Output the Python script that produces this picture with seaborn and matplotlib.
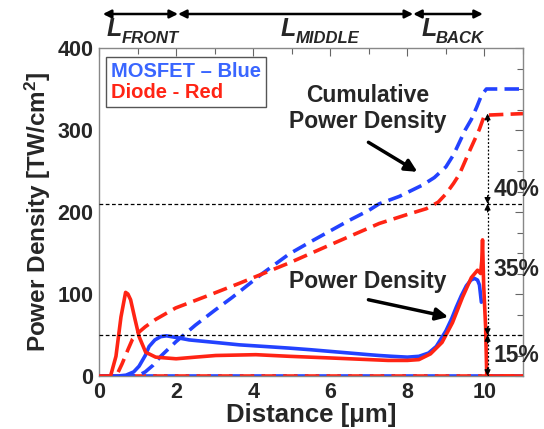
import matplotlib
matplotlib.use("Agg")
import matplotlib.pyplot as plt
import seaborn as sns
import pandas as pd
from matplotlib.lines import Line2D
from matplotlib.ticker import MultipleLocator

# ---- data: distance [um] vs power density / cumulative power density [TW/cm^2] ----
mos_pd_x = [0, 0.5, 0.7, 0.9, 1.04, 1.2, 1.3, 1.45, 1.6, 1.75, 2.0, 2.34, 3.0, 3.64,
            4.3, 4.94, 5.5, 6.0, 6.5, 7.0, 7.27, 7.6, 8.0, 8.3, 8.55, 8.75, 9.0, 9.15,
            9.27, 9.4, 9.53, 9.65, 9.74, 9.82, 9.87, 9.92]
mos_pd_y = [0, 0, 1, 5, 12, 25, 36, 44, 48, 49, 47, 44, 41, 38,
            36, 34, 32, 30, 28, 26, 25, 24, 23, 24, 28, 36, 55, 70,
            84, 98, 110, 117, 119, 117, 111, 90]

dio_pd_x = [0, 0.3, 0.44, 0.57, 0.69, 0.75, 0.82, 0.93, 1.04, 1.21, 1.47, 2.0, 2.5,
            3.03, 4.07, 4.94, 6.0, 7.0, 7.5, 8.0, 8.3, 8.6, 8.9, 9.17, 9.43, 9.66,
            9.82, 9.9, 9.93, 9.95, 9.98, 10.03, 10.06, 11]
dio_pd_y = [0, 0, 24, 72, 102, 100, 93, 70, 48, 29, 23, 21, 23,
            25, 26, 24, 22, 20, 19, 19, 20, 27, 41, 65, 96, 120,
            129, 125, 140, 166, 110, 60, 0, 0]

mos_cum_x = [0, 1.0, 1.2, 1.4, 1.6, 1.8, 2.0, 2.5, 3.0, 3.46, 4.24, 4.94, 5.5, 6.0,
             6.5, 7.0, 7.27, 7.79, 8.4, 8.7, 9.0, 9.2, 9.35, 9.5, 9.66, 9.8, 9.92,
             10.05, 11]
mos_cum_y = [0, 0, 5, 13, 24, 33, 42, 62, 80, 96, 125, 149, 164, 177,
             190, 202, 210, 219, 233, 242, 255, 270, 285, 300, 313, 328, 342,
             350, 350]

dio_cum_x = [0, 0.45, 0.6, 0.75, 0.87, 1.0, 1.2, 1.47, 1.99, 2.77, 3.64, 4.94, 6.0,
             7.27, 8.0, 8.49, 8.8, 9.0, 9.2, 9.35, 9.6, 9.87, 10.0, 11]
dio_cum_y = [0, 0, 15, 32, 45, 52, 60, 69, 83, 97, 113, 138, 160,
             186, 197, 204, 212, 222, 235, 246, 273, 301, 318, 320]

# share breakpoints of the diode cumulative power and their labels
share_levels = [0, 50, 210, 320]
share_labels = ["15%", "35%", "40%"]

# device regions along the distance axis
region_names = ["FRONT", "MIDDLE", "BACK"]
region_edges = [0.1, 2.05, 8.15, 9.96]

BLUE = "#2342FF"
RED = "#FF2414"
LEG_BLUE = "#3A66FF"

sns.set_style("white")
plt.rcParams["font.family"] = ["Liberation Sans", "DejaVu Sans"]
plt.rcParams["font.weight"] = "bold"
plt.rcParams["mathtext.fontset"] = "custom"
plt.rcParams["mathtext.rm"] = "Liberation Sans:bold"
plt.rcParams["mathtext.bf"] = "Liberation Sans:bold"
plt.rcParams["mathtext.it"] = "Liberation Sans:italic:bold"

W, H = 544, 429
fig = plt.figure(figsize=(W / 100, H / 100), dpi=100)
ax = fig.add_axes([99 / W, 1 - 376 / H, 424 / W, 328 / H])

LW = 2.6
dash = (0, (4, 2))
ax.axhline(0, color=BLUE, lw=LW, ls=dash, zorder=1)
ax.axhline(0, color=RED, lw=LW, ls=(3, (4, 2)), zorder=1)

def draw(xs, ys, color, ls, z):
    df = pd.DataFrame({"x": xs, "y": ys})
    sns.lineplot(data=df, x="x", y="y", ax=ax, color=color, lw=LW,
                 linestyle=ls, estimator=None, sort=False, zorder=z)

draw(mos_cum_x, mos_cum_y, BLUE, dash, 2)
draw(dio_cum_x, dio_cum_y, RED, dash, 2)
draw(mos_pd_x, mos_pd_y, BLUE, "-", 3)
draw(dio_pd_x, dio_pd_y, RED, "-", 4)

# dotted reference levels
for lv in share_levels[1:3]:
    ax.axhline(lv, color="black", lw=0.9, ls=(0, (3, 2)), zorder=5)

# dotted double arrows with share percentages
xa = 10.08
ax.plot([xa, xa], [share_levels[0], share_levels[-1]], color="black", lw=0.9,
        ls=(0, (1.5, 1.5)), zorder=6)
for lo, hi in zip(share_levels[:-1], share_levels[1:]):
    for tip, tail in ((hi, hi - 10), (lo, lo + 10)):
        ax.annotate("", xy=(xa, tip), xytext=(xa, tail),
                    arrowprops=dict(arrowstyle="-|>", color="black", lw=0.8,
                                    mutation_scale=9, shrinkA=0, shrinkB=0),
                    zorder=7)
for lab, yy in zip(share_labels, [25, 130, 228]):
    ax.text(10.23, yy, lab, fontsize=16.5, fontweight="bold", ha="left",
            va="center", clip_on=False)

# callouts
ax.text(6.98, 326, "Cumulative\nPower Density", fontsize=16.5, fontweight="bold",
        ha="center", va="center", linespacing=1.15)
ax.annotate("", xy=(8.26, 249), xytext=(6.99, 285),
            arrowprops=dict(arrowstyle="-|>", color="black", lw=2.5,
                            mutation_scale=18, shrinkA=0, shrinkB=0))
ax.text(6.98, 115, "Power Density", fontsize=16.5, fontweight="bold",
        ha="center", va="center")
ax.annotate("", xy=(9.06, 72), xytext=(6.99, 93),
            arrowprops=dict(arrowstyle="-|>", color="black", lw=2.5,
                            mutation_scale=18, shrinkA=0, shrinkB=0))

# region arrows above the axes
ytop = (376 - 14) / 328
for a, b in zip(region_edges[:-1], region_edges[1:]):
    ax.annotate("", xy=(b, ytop), xytext=(a, ytop),
                xycoords=ax.get_xaxis_transform(),
                textcoords=ax.get_xaxis_transform(),
                arrowprops=dict(arrowstyle="<|-|>", color="black", lw=1.8,
                                mutation_scale=12, shrinkA=0, shrinkB=0),
                annotation_clip=False)
for name, xl, xs in zip(region_names, [107, 281, 422], [122, 296, 436]):
    fig.text(xl / W, 1 - 36 / H, "L", fontsize=18, fontweight="bold",
             fontstyle="italic", ha="left", va="baseline")
    fig.text(xs / W, 1 - 43 / H, name, fontsize=12, fontweight="bold",
             fontstyle="italic", ha="left", va="baseline")

# legend as coloured labels
handles = [Line2D([], [], color=LEG_BLUE, lw=0), Line2D([], [], color=RED, lw=0)]
leg = ax.legend(handles, ["MOSFET \u2013 Blue", "Diode - Red"], loc="upper left",
                bbox_to_anchor=(7 / 424, 319 / 328), borderaxespad=0,
                handlelength=0, handletextpad=0, labelspacing=0.1,
                borderpad=0.25, fancybox=False, framealpha=1,
                edgecolor="#555555", prop={"size": 14.5, "weight": "bold"},
                labelcolor=[LEG_BLUE, RED])
leg.get_frame().set_linewidth(1.0)

ax.set_xlim(0, 11)
ax.set_ylim(0, 400)
ax.set_xticks(range(0, 11, 2))
ax.xaxis.set_minor_locator(MultipleLocator(1))
ax.yaxis.set_major_locator(MultipleLocator(100))
ax.yaxis.set_minor_locator(MultipleLocator(25))
ax.tick_params(which="both", direction="in", top=True, right=True,
               color="#666666", labelsize=15.5, pad=4)
ax.tick_params(which="major", length=6, width=0.8)
ax.tick_params(which="minor", length=4, width=0.8)
for lab in ax.get_xticklabels() + ax.get_yticklabels():
    lab.set_fontweight("bold")
for sp in ax.spines.values():
    sp.set_color("#888888")
    sp.set_linewidth(1.0)

ax.set_xlabel("Distance [\u03bcm]", fontsize=18.5, fontweight="bold", labelpad=0)
ax.set_ylabel(r"Power Density [TW/cm$^\mathbf{2}$]", fontsize=17.5,
              fontweight="bold", labelpad=3)

fig.savefig("out.png", dpi=100)
